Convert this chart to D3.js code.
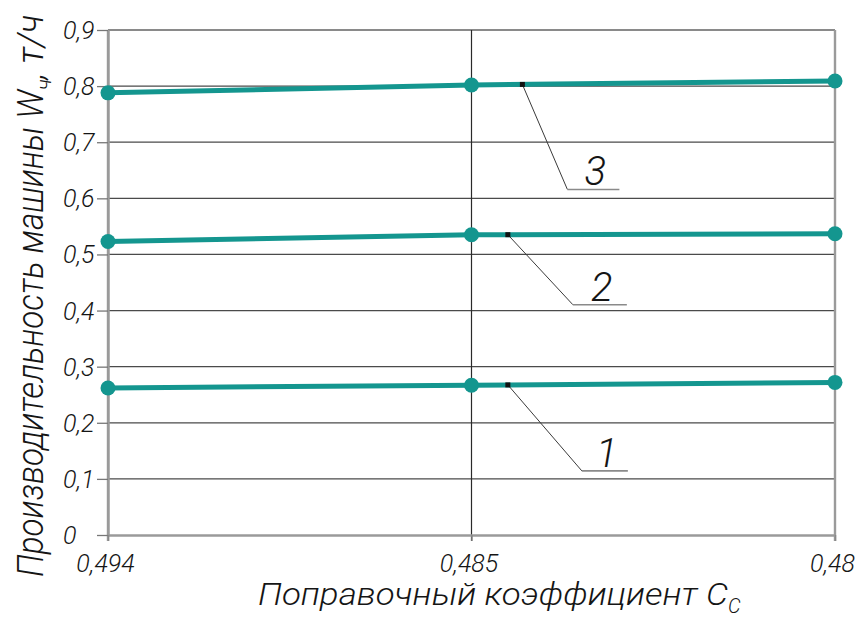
<!DOCTYPE html>
<html>
<head>
<meta charset="utf-8">
<script src="https://cdn.jsdelivr.net/npm/d3@7"></script>
<style>
  html, body { margin: 0; padding: 0; background: #fff; }
  svg text { font-family: "Roboto", "Liberation Sans", sans-serif; font-style: italic; font-weight: 300; fill: #151515; }
</style>
</head>
<body>
<svg id="chart" width="858" height="617"></svg>
<script>
// Correction coefficient C_c (categories, evenly spaced)
const categories = ["0,494", "0,485", "0,48"];
// Machine productivity W_ч, t/h, one series per curve
const series1 = [0.262, 0.267, 0.272];
const series2 = [0.523, 0.535, 0.537];
const series3 = [0.788, 0.802, 0.809];
const seriesNames = ["1", "2", "3"];
const yTicks = [0, 0.1, 0.2, 0.3, 0.4, 0.5, 0.6, 0.7, 0.8, 0.9];

const svg = d3.select("#chart");
const margin = { left: 108, right: 23, top: 30, bottom: 82 };
const W = 858, H = 617;

const x = d3.scalePoint().domain(categories).range([margin.left, W - margin.right]);
const y = d3.scaleLinear().domain([0, 0.9]).range([H - margin.bottom, margin.top]);

const teal = "#14968f";

// horizontal grid
svg.append("g").selectAll("line").data(yTicks.slice(1)).join("line")
  .attr("x1", margin.left).attr("x2", W - margin.right)
  .attr("y1", d => y(d)).attr("y2", d => y(d))
  .attr("stroke", (d, i, a) => i === a.length - 1 ? "#8a8a8a" : "#4a4a4a")
  .attr("stroke-width", (d, i, a) => i === a.length - 1 ? 2 : 1.3);

// vertical grid at each category
svg.append("g").selectAll("line").data(categories).join("line")
  .attr("x1", d => x(d)).attr("x2", d => x(d))
  .attr("y1", y(0.9)).attr("y2", y(0) + 6)
  .attr("stroke", (d, i) => i === 1 ? "#2a2a2a" : "#9a9a9a")
  .attr("stroke-width", (d, i) => i === 1 ? 1.2 : 2.4);

// y axis
const yAxis = d3.axisLeft(y).tickValues(yTicks).tickSize(11).tickSizeOuter(0)
  .tickFormat(d => d === 0 ? "0" : d3.format(".1f")(d).replace(".", ","));
const gy = svg.append("g").attr("transform", `translate(${margin.left},0)`).call(yAxis);
gy.select(".domain").attr("stroke", "#9a9a9a").attr("stroke-width", 2.4);
gy.selectAll(".tick line").attr("stroke", "#777").attr("stroke-width", 1.3);
gy.selectAll(".tick text").attr("font-size", 25).attr("text-anchor", "start")
  .attr("x", 63 - margin.left).attr("dy", "0.34em");

// x axis
const xAxis = d3.axisBottom(x).tickSize(6).tickSizeOuter(0);
const gx = svg.append("g").attr("transform", `translate(0,${y(0)})`).call(xAxis);
gx.select(".domain").attr("stroke", "#9a9a9a").attr("stroke-width", 2.6);
gx.selectAll(".tick line").attr("stroke", "#888").attr("stroke-width", 1.5);
gx.selectAll(".tick text").attr("font-size", 25).attr("y", 37).attr("dy", 0).attr("dx", -3);

// curves
const allSeries = [series1, series2, series3];
const line = d3.line().x((d, i) => x(categories[i])).y(d => y(d));
allSeries.forEach(s => {
  svg.append("path").datum(s).attr("d", line)
    .attr("fill", "none").attr("stroke", teal).attr("stroke-width", 5);
  svg.append("g").selectAll("circle").data(s).join("circle")
    .attr("cx", (d, i) => x(categories[i])).attr("cy", d => y(d))
    .attr("r", 7.5).attr("fill", teal);
});

// leader lines with curve numbers; anchor sits on the segment between the 2nd and 3rd points
const anchorT = [0.1, 0.1, 0.14];
const leaderDx = [74, 65, 45], leaderDy = [86, 70, 105];
const shelfLen = [46, 54, 52];
allSeries.forEach((s, k) => {
  const t = anchorT[k];
  const ax = x(categories[1]) + t * (x(categories[2]) - x(categories[1]));
  const ay = y(s[1] + t * (s[2] - s[1]));
  const bx = ax + leaderDx[k], by = ay + leaderDy[k];
  svg.append("line").attr("x1", ax).attr("y1", ay).attr("x2", bx).attr("y2", by)
    .attr("stroke", "#3a3a3a").attr("stroke-width", 1);
  svg.append("line").attr("x1", bx).attr("y1", by).attr("x2", bx + shelfLen[k]).attr("y2", by)
    .attr("stroke", "#8a8a8a").attr("stroke-width", 1.6);
  svg.append("rect").attr("x", ax - 2.5).attr("y", ay - 2.5).attr("width", 5).attr("height", 5)
    .attr("fill", "#111");
  svg.append("text").attr("x", bx + shelfLen[k] / 2 + 2).attr("y", by - 4).attr("text-anchor", "middle")
    .attr("font-size", 40).text(seriesNames[k]);
});

// axis titles
const xt = svg.append("text").attr("x", 258).attr("y", 605).attr("font-size", 31);
xt.append("tspan").attr("textLength", 470).attr("lengthAdjust", "spacingAndGlyphs")
  .text("Поправочный коэффициент C");
xt.append("tspan").attr("font-size", 20).attr("dy", 8).text("С");

const yt = svg.append("text").attr("transform", "translate(43,577) rotate(-90)")
  .attr("font-size", 36);
yt.append("tspan").attr("textLength", 487).attr("lengthAdjust", "spacingAndGlyphs")
  .text("Производительность машины W");
yt.append("tspan").attr("font-size", 21).attr("dy", 8).text("ч");
yt.append("tspan").attr("dy", -8).text(", т/ч");
</script>
</body>
</html>
